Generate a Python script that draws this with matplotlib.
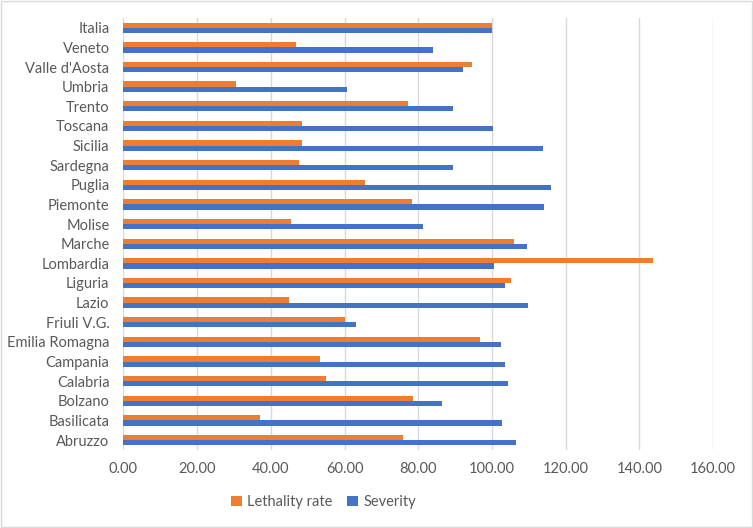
import numpy as np
import matplotlib.pyplot as plt
from matplotlib.patches import Rectangle

# regions, bottom to top as drawn
regions = ['Abruzzo', 'Basilicata', 'Bolzano', 'Calabria', 'Campania', 'Emilia Romagna',
           'Friuli V.G.', 'Lazio', 'Liguria', 'Lombardia', 'Marche', 'Molise', 'Piemonte',
           'Puglia', 'Sardegna', 'Sicilia', 'Toscana', 'Trento', 'Umbria', "Valle d'Aosta",
           'Veneto', 'Italia']
lethality = [75.9, 37.0, 78.6, 55.0, 53.2, 96.7, 60.0, 45.0, 105.2, 143.6, 105.9, 45.4,
             78.2, 65.5, 47.5, 48.4, 48.4, 77.3, 30.5, 94.6, 46.7, 100.0]
severity = [106.6, 102.8, 86.4, 104.4, 103.6, 102.5, 63.0, 109.8, 103.4, 100.5, 109.6, 81.2,
            114.1, 116.1, 89.4, 113.9, 100.2, 89.3, 60.6, 92.0, 83.9, 100.0]

orange = '#ED7D31'
blue = '#4472C4'
txt = '#595959'

plt.rcParams['font.family'] = ['Lato', 'DejaVu Sans']

fig = plt.figure(figsize=(7.53, 5.28), dpi=100)
ax = fig.add_axes([0.164, 0.148, 0.783, 0.818])

y = np.arange(len(regions))
h = 0.265
ax.barh(y + h / 2, lethality, height=h, color=orange, label='Lethality rate', zorder=3)
ax.barh(y - h / 2, severity, height=h, color=blue, label='Severity', zorder=3)

ax.set_xlim(0, 160)
ax.set_ylim(-0.5, len(regions) - 0.5)
ax.set_xticks(np.arange(0, 161, 20))
ax.set_xticklabels([f'{v:.2f}' for v in np.arange(0, 161, 20)])
ax.set_yticks(y)
ax.set_yticklabels(regions)
ax.tick_params(length=0, colors=txt, labelsize=10.5)
ax.tick_params(axis='x', pad=9)
ax.tick_params(axis='y', pad=10)
ax.grid(axis='x', color='#D9D9D9', linewidth=1, zorder=0)
for s in ax.spines.values():
    s.set_visible(False)

leg = fig.legend(loc='center', bbox_to_anchor=(0.43, 0.049), ncol=2, frameon=False,
                 fontsize=10.5, handlelength=0.7, handleheight=0.7, handletextpad=0.4,
                 columnspacing=1.0)
for t in leg.get_texts():
    t.set_color(txt)

fig.patches.append(Rectangle((0.001, 0.001), 0.998, 0.998, transform=fig.transFigure,
                             fill=False, edgecolor='#D9D9D9', linewidth=1))

fig.savefig('out.png', dpi=100)
